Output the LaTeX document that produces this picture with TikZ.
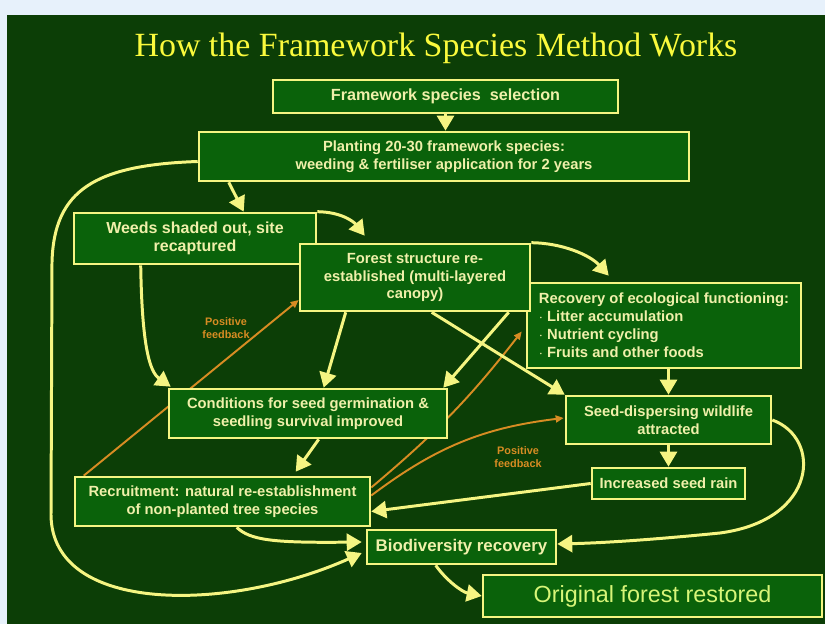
\documentclass[tikz,border=0pt]{standalone}
\usepackage{fontspec}
\setmainfont{Liberation Sans}
\newfontfamily\titlefont{Liberation Serif}
\usetikzlibrary{arrows.meta, calc, backgrounds}

\definecolor{bgblue}{RGB}{231,241,251}
\definecolor{panel}{RGB}{12,62,6}
\definecolor{boxfill}{RGB}{10,98,10}
\definecolor{boxline}{RGB}{245,245,130}
\definecolor{boxtext}{RGB}{240,240,170}
\definecolor{titlecol}{RGB}{250,250,60}
\definecolor{fbcol}{RGB}{215,140,35}
\definecolor{origtext}{RGB}{215,245,120}

\newcommand{\boxtxt}{\fontsize{8.4}{10.2}\selectfont\bfseries}
\newcommand{\midtxt}{\fontsize{9.1}{10.2}\selectfont\bfseries}

\tikzset{
    box/.style={rectangle, draw=boxline, line width=1.5pt, fill=boxfill, text=boxtext, align=center, inner sep=2pt, font=\boxtxt},
    arrow/.style={draw=boxline, line width=1.7pt, -{Triangle[length=0.3cm, width=0.34cm]}},
    feedback/.style={draw=fbcol, line width=1.1pt, -{Triangle[length=0.16cm, width=0.14cm]}},
    fblabel/.style={text=fbcol, align=center, font=\fontsize{6.2}{7.4}\selectfont\bfseries},
    title/.style={text=titlecol, font=\titlefont\fontsize{19.3}{22}\selectfont}
}

\begin{document}
\begin{tikzpicture}[x=0.02cm, y=-0.02cm]
    \useasboundingbox (0,0) rectangle (825,624);

    \node[title] (head) at (436,48) {How the Framework Species Method Works};

    % boxes, top to bottom
    \node[box, minimum width=6.9cm, minimum height=0.66cm, font=\fontsize{9.2}{10.2}\selectfont\bfseries] (sel) at (445.5,96.5) {Framework species\ \ selection};
    \node[box, minimum width=9.8cm, minimum height=0.98cm] (plant) at (444,156.5) {Planting 20-30 framework species:\\weeding \& fertiliser application for 2 years};
    \node[box, minimum width=4.84cm, minimum height=1.02cm, font=\midtxt] (weeds) at (195,238.5) {Weeds shaded out, site\\recaptured};
    \node[box, minimum width=5.48cm, minimum height=1.7cm, align=left] (recov) at (664,325.5) {Recovery of ecological functioning:\\$\cdot$ Litter accumulation\\$\cdot$ Nutrient cycling\\$\cdot$ Fruits and other foods};
    \node[box, minimum width=4.6cm, minimum height=1.34cm] (forest) at (415,277.5) {Forest structure re-\\established (multi-layered\\canopy)};
    \node[box, minimum width=5.56cm, minimum height=0.98cm] (cond) at (308,413.5) {Conditions for seed germination \&\\seedling survival improved};
    \node[box, minimum width=4.1cm, minimum height=0.96cm] (wild) at (668.5,420) {Seed-dispersing wildlife\\attracted};
    \node[box, minimum width=3.06cm, minimum height=0.62cm] (rain) at (668.5,483.5) {Increased seed rain};
    \node[box, minimum width=5.9cm, minimum height=0.98cm] (recr) at (222.5,501.5) {Recruitment: natural re-establishment\\of non-planted tree species};
    \node[box, minimum width=3.78cm, minimum height=0.68cm, font=\fontsize{9.6}{11}\selectfont\bfseries] (bio) at (461.5,547) {Biodiversity recovery};
    \node[box, minimum width=6.78cm, minimum height=0.84cm, text=origtext, font=\fontsize{13.3}{15}\selectfont] (orig) at (652.5,596) {Original forest restored};

    % slide background and feedback loops go behind the boxes
    \begin{scope}[on background layer]
        \fill[bgblue] (0,0) rectangle (825,624);
        \fill[panel] (7,15) rectangle (825,624);
        \draw[feedback] ($(recr.north west)+(10,0)$) -- ($(forest.west)+(0,22.5)$);
        \draw[feedback] ($(recr.east)+(0,-14)$) to[bend right=6] ($(recov.west)+(-4,6)$);
        \draw[feedback] ($(recr.east)+(0,-6)$) to[bend left=15] ($(wild.west)+(-1,-2)$);
    \end{scope}
    \node[fblabel] (fb1) at (226,328) {Positive\\feedback};
    \node[fblabel] (fb2) at (518,457) {Positive\\feedback};

    % main flow
    \draw[arrow] (sel.south) -- (sel.south |- plant.north);
    \draw[arrow] ($(plant.south west)+(31,0)$) -- ($(weeds.north west)+(171,0)$);
    \draw[arrow] ($(plant.west)+(0,5)$) .. controls (95,165) and (54,190) .. (52,262) -- (51,515) .. controls (52,615) and (230,612) .. ($(bio.west)+(-4,6)$);
    \draw[arrow] (weeds.north east) .. controls (342,212) and (354,222) .. ($(forest.north west)+(66,-7)$);
    \draw[arrow] (forest.north east) .. controls (562,243) and (590,255) .. ($(recov.north west)+(83,-6)$);
    \draw[arrow] ($(weeds.south west)+(68,0)$) .. controls (142,348) and (150,372) .. ($(cond.north west)+(3,-1)$);
    \draw[arrow] ($(forest.south west)+(47,0)$) -- ($(cond.north west)+(156,0)$);
    \draw[arrow] ($(forest.south west)+(210,0)$) -- ($(cond.north east)+(-5,0)$);
    \draw[arrow] ($(forest.south west)+(133,0)$) -- (wild.north west);
    \draw[arrow] (wild.north |- recov.south) -- (wild.north);
    \draw[arrow] (wild) -- (rain);
    \draw[arrow] (rain.west) -- ($(recr.east)+(0,10)$);
    \draw[arrow] (wild.east) .. controls (822,438) and (818,520) .. (720,533) .. controls (650,540) and (600,543) .. ($(bio.east)+(0,-3)$);
    \draw[arrow] ($(recr.south west)+(163,0)$) .. controls (250,540) and (272,543) .. ($(bio.west)+(-4,-5)$);
    \draw[arrow] ($(cond.south west)+(151,0)$) -- ($(recr.north west)+(222,-4)$);
    \draw[arrow] ($(bio.south west)+(70,0)$) .. controls (446,580) and (462,592) .. (orig.west);
\end{tikzpicture}
\end{document}
